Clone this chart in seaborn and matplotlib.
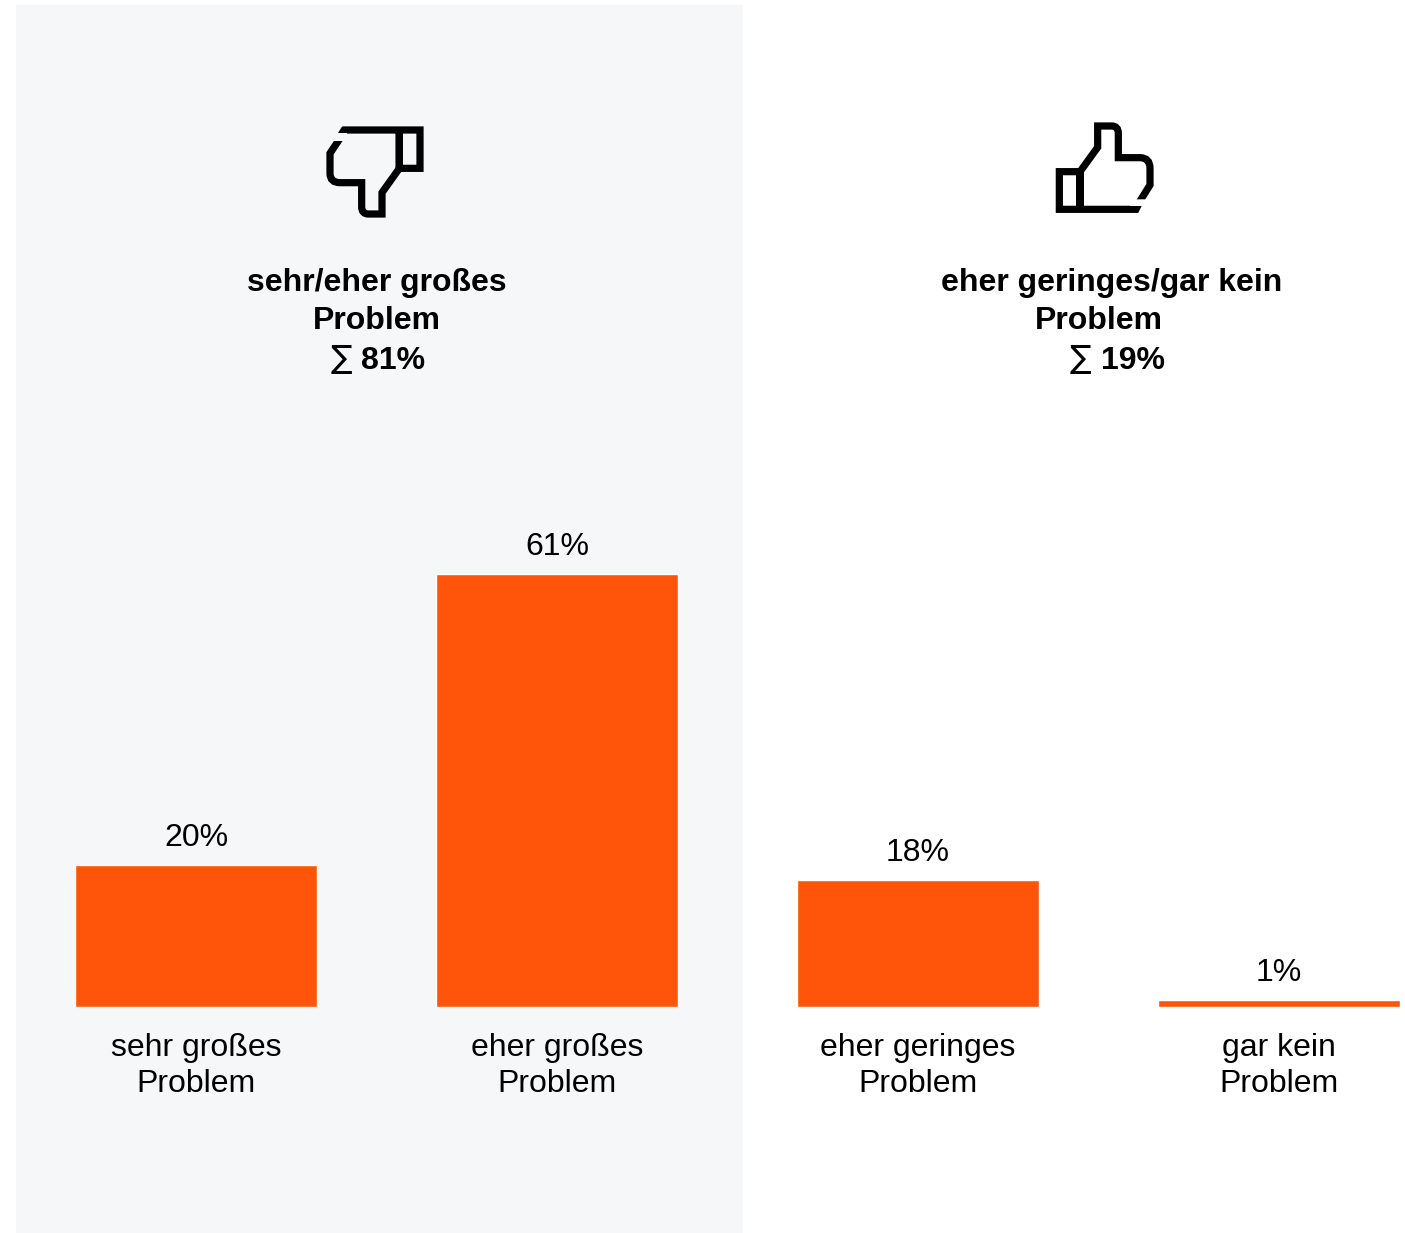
import matplotlib
matplotlib.use("Agg")
import matplotlib.pyplot as plt
from matplotlib.patches import PathPatch, Rectangle
from matplotlib.path import Path
import pandas as pd
import seaborn as sns

categories = ["sehr großes\nProblem", "eher großes\nProblem", "eher geringes\nProblem", "gar kein\nProblem"]
values = [20, 61, 18, 1]
value_labels = ["20%", "61%", "18%", "1%"]

W, H = 1405, 1233
ORANGE = "#FF550A"
PANEL = "#F6F7F9"
FONT = 23.05

sns.set_theme(style="white")
plt.rcParams["font.family"] = ["Liberation Sans", "DejaVu Sans"]

fig = plt.figure(figsize=(W / 100, H / 100), dpi=100, facecolor="white")

# overlay in pixel coords for the panel, headers and icons
bg = fig.add_axes([0, 0, 1, 1], zorder=0)
bg.set_xlim(0, W)
bg.set_ylim(H, 0)
bg.axis("off")
bg.add_patch(Rectangle((16, 5), 727, H - 5, facecolor=PANEL, edgecolor="none"))

# bars: baseline sits at y=1007px, 361px between categories, 7.1px per percent
base = 1007.4
ax = fig.add_axes([0, 1 - base / H, 1, base / H], zorder=1)
ax.patch.set_alpha(0)
df = pd.DataFrame({"cat": categories, "val": values})
sns.barplot(data=df, x="cat", y="val", color=ORANGE, saturation=1, width=241.8 / 361, ax=ax)
ax.set_xlim(-196 / 361, (W - 196) / 361)
ax.set_ylim(0, base / 7.105)
ax.bar_label(ax.containers[0], labels=value_labels, padding=8.5, fontsize=FONT, color="black")
ax.set_xlabel("")
ax.set_ylabel("")
ax.set_yticks([])
ax.tick_params(axis="x", length=0, pad=18.2, labelsize=FONT, labelcolor="black")
for lab in ax.get_xticklabels():
    lab.set_linespacing(1.28)
sns.despine(ax=ax, left=True, bottom=True)

M, L, C = Path.MOVETO, Path.LINETO, Path.CURVE3


def zoomed(points, ox, oy):
    return [(ox + x / 3, oy + y / 3) for x, y in points]


def stroke(verts, codes, clip, ox, oy):
    patch = PathPatch(Path(zoomed(verts, ox, oy), codes), facecolor="none", edgecolor="black",
                      linewidth=5.2, joinstyle="miter", capstyle="butt")
    bg.add_patch(patch)
    # the two open ends are cut at an angle in the original icon
    patch.set_clip_path(Path(zoomed(clip + clip[:1], ox, oy), closed=True), bg.transData)


# thumb down
stroke([(100, 60), (360, 60), (360, 175), (298, 175), (298, 60), (298, 175), (246, 248), (246, 312),
        (205, 312), (185, 312), (185, 290), (185, 218), (120, 218), (90, 218), (90, 190), (90, 130), (130, 70)],
       [M, L, L, L, L, L, L, L, L, C, C, L, L, C, C, L, L],
       [(127.5, 45), (380, 45), (380, 330), (60, 330), (60, 92), (140, 92), (140, 70), (115, 70)], 300, 110)
# thumb up
stroke([(350, 298), (88, 298), (88, 185), (150, 185), (150, 298), (150, 185), (203, 112), (203, 48),
        (245, 48), (265, 48), (265, 70), (265, 143), (330, 143), (360, 143), (360, 175), (360, 225), (320, 289)],
       [M, L, L, L, L, L, L, L, L, C, C, L, L, C, C, L, L],
       [(60, 30), (390, 30), (390, 268), (300, 268), (300, 288), (335, 288), (322.5, 313), (60, 313)], 1030, 110)

header_style = dict(ha="center", va="center", fontsize=FONT, fontweight="bold", color="black")
bg.text(377, 283, "sehr/eher großes", **header_style)
bg.text(377, 321, "Problem", **header_style)
bg.text(1112, 283, "eher geringes/gar kein", **header_style)
bg.text(1099, 321, "Problem", **header_style)

sum_style = dict(va="center", fontsize=FONT, fontweight="bold", color="black", ha="left")
sigma_style = dict(va="center", ha="center", fontsize=FONT, color="black", family="DejaVu Sans")
bg.text(341, 360, "∑", **sigma_style)
bg.text(361, 361, "81%", **sum_style)
bg.text(1080, 360, "∑", **sigma_style)
bg.text(1101, 361, "19%", **sum_style)

fig.savefig("out.png", dpi=100, facecolor="white")
